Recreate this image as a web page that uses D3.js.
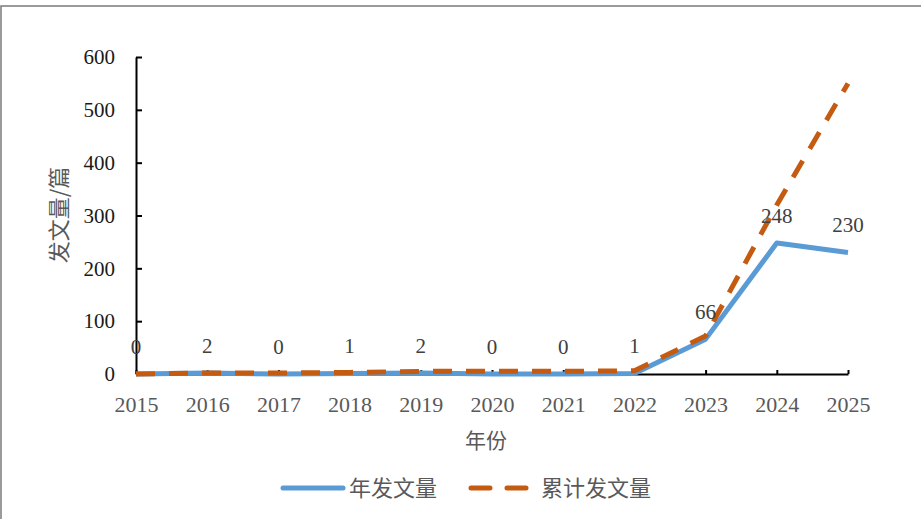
<!DOCTYPE html>
<html><head><meta charset="utf-8">
<script src="https://cdn.jsdelivr.net/npm/d3@7"></script>
<style>body{margin:0;background:#fff}svg{display:block}</style>
</head><body>
<svg id="c" width="921" height="519"></svg>
<script>
const years = ["2015","2016","2017","2018","2019","2020","2021","2022","2023","2024","2025"];
const annual = [0,2,0,1,2,0,0,1,66,248,230];
const cumulative = [0,2,2,3,5,5,5,6,72,320,550];
const yTicks = [0,100,200,300,400,500,600];
const seriesNames = ["年发文量","累计发文量"];
const colors = ["#5B9BD5","#C55A11"];

const svg = d3.select("#c");
const serif = "'Liberation Serif','Times New Roman',serif";
const cjk = "'Noto Sans CJK SC','Noto Sans',sans-serif";

// frame
svg.append("path").attr("d","M1,519V6H921").attr("fill","none").attr("stroke","#7a7a7a").attr("stroke-width",1.5);

const x = d3.scalePoint().domain(years).range([136,848]);
const y = d3.scaleLinear().domain([0,600]).range([374,57]);

// y axis
const ya = svg.append("g").attr("transform","translate(136,0)")
  .call(d3.axisLeft(y).tickValues(yTicks).tickSizeInner(-6).tickSizeOuter(0).tickPadding(21));
ya.select(".domain").attr("stroke","#000").attr("stroke-width",2);
ya.selectAll(".tick line").attr("stroke","#000").attr("stroke-width",2);
ya.selectAll("text").attr("font-family",serif).attr("font-size",21).attr("fill","#1a1a1a");

// x axis
const xa = svg.append("g").attr("transform","translate(0,374)")
  .call(d3.axisBottom(x).tickSizeInner(-4).tickSizeOuter(0).tickPadding(22));
xa.select(".domain").attr("stroke","#000").attr("stroke-width",2);
xa.selectAll(".tick line").attr("stroke","#000").attr("stroke-width",2);
xa.selectAll("text").attr("font-family",serif).attr("font-size",22).attr("fill","#595959").attr("dy","0.71em");

// titles
svg.append("text").attr("x",486).attr("y",448).attr("text-anchor","middle")
  .attr("font-family",cjk).attr("font-size",21).attr("fill","#595959").text("年份");
svg.append("text").attr("transform","translate(67,215) rotate(-90)").attr("text-anchor","middle")
  .attr("font-family",cjk).attr("font-size",22).attr("fill","#595959").text("发文量/篇");

const line = d3.line().x((d,i)=>x(years[i])).y(d=>y(d));
svg.append("path").datum(annual).attr("d",line).attr("fill","none")
  .attr("stroke",colors[0]).attr("stroke-width",5).attr("stroke-linejoin","round");
svg.append("path").datum(cumulative).attr("d",line).attr("fill","none")
  .attr("stroke",colors[1]).attr("stroke-width",5).attr("stroke-dasharray","19,14");

// data labels
svg.append("g").selectAll("text").data(annual).join("text")
  .attr("x",(d,i)=>x(years[i])).attr("y",d=>y(d)-20)
  .attr("text-anchor","middle").attr("font-family",serif).attr("font-size",21).attr("fill","#404040")
  .text(d=>d);

// legend
const lg = svg.append("g");
lg.append("line").attr("x1",283).attr("x2",343).attr("y1",488).attr("y2",488)
  .attr("stroke",colors[0]).attr("stroke-width",5).attr("stroke-linecap","round");
lg.append("text").attr("x",349).attr("y",496).attr("font-family",cjk).attr("font-size",22).attr("fill","#595959").text(seriesNames[0]);
lg.append("line").attr("x1",471).attr("x2",528).attr("y1",488).attr("y2",488)
  .attr("stroke",colors[1]).attr("stroke-width",5).attr("stroke-dasharray","19,17").attr("stroke-linecap","round");
lg.append("text").attr("x",541).attr("y",496).attr("font-family",cjk).attr("font-size",22).attr("fill","#595959").text(seriesNames[1]);
</script>
</body></html>
